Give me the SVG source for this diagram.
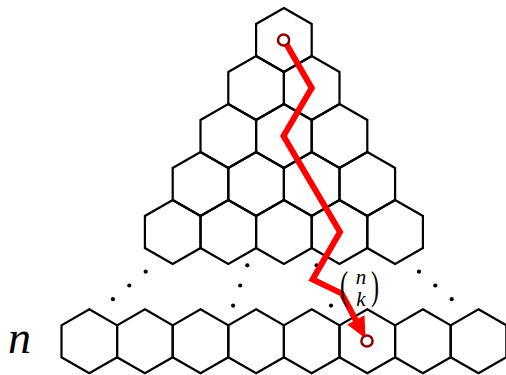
<svg xmlns="http://www.w3.org/2000/svg" width="506" height="375" viewBox="0 0 506 375">
<style>
.hex{fill:none;stroke:#000;stroke-width:2.2;stroke-linejoin:miter}
.dot{fill:#000}
.path{fill:none;stroke:#ff0000;stroke-width:6;stroke-linejoin:miter;stroke-miterlimit:6}
.end{fill:#fff;stroke:#8b0000;stroke-width:2.5}
.m{font-family:"Liberation Serif",serif;fill:#000}
</style>
<defs>
<path id="h" d="M0,-32 L27.8,-16 L27.8,16 L0,32 L-27.8,16 L-27.8,-16Z"/>
</defs>
<g id="triangle">
<use href="#h" class="hex" x="283.9" y="40"/>
<use href="#h" class="hex" x="256.1" y="88"/>
<use href="#h" class="hex" x="311.7" y="88"/>
<use href="#h" class="hex" x="228.3" y="136"/>
<use href="#h" class="hex" x="283.9" y="136"/>
<use href="#h" class="hex" x="339.5" y="136"/>
<use href="#h" class="hex" x="200.5" y="184"/>
<use href="#h" class="hex" x="256.1" y="184"/>
<use href="#h" class="hex" x="311.7" y="184"/>
<use href="#h" class="hex" x="367.3" y="184"/>
<use href="#h" class="hex" x="172.7" y="232"/>
<use href="#h" class="hex" x="228.3" y="232"/>
<use href="#h" class="hex" x="283.9" y="232"/>
<use href="#h" class="hex" x="339.5" y="232"/>
<use href="#h" class="hex" x="395.1" y="232"/>
</g>
<g id="bottom-row">
<use href="#h" class="hex" x="89.3" y="341.3"/>
<use href="#h" class="hex" x="144.9" y="341.3"/>
<use href="#h" class="hex" x="200.5" y="341.3"/>
<use href="#h" class="hex" x="256.1" y="341.3"/>
<use href="#h" class="hex" x="311.7" y="341.3"/>
<use href="#h" class="hex" x="367.3" y="341.3"/>
<use href="#h" class="hex" x="422.9" y="341.3"/>
<use href="#h" class="hex" x="478.5" y="341.3"/>
</g>
<g id="dots">
<circle class="dot" cx="145.7" cy="271.7" r="2.1"/>
<circle class="dot" cx="129.3" cy="285.5" r="2.1"/>
<circle class="dot" cx="112.9" cy="299.2" r="2.1"/>
<circle class="dot" cx="247.3" cy="265.3" r="2.1"/>
<circle class="dot" cx="240.2" cy="285.5" r="2.1"/>
<circle class="dot" cx="233.1" cy="305.6" r="2.1"/>
<circle class="dot" cx="316.6" cy="265.3" r="2.1"/>
<circle class="dot" cx="323.8" cy="285.5" r="2.1"/>
<circle class="dot" cx="331" cy="305.6" r="2.1"/>
<circle class="dot" cx="419" cy="271.7" r="2.1"/>
<circle class="dot" cx="435.3" cy="285.5" r="2.1"/>
<circle class="dot" cx="451.7" cy="299.2" r="2.1"/>
</g>
<g id="connectors">
<polyline class="path" points="284,40 311.7,88 283.5,136 340,232 312.6,279.4 341.6,293.4 356.5,321.5"/>
<polygon fill="#ff0000" points="365.5,338.5 347.2,324.4 364.5,315.3"/>
</g>
<g id="start">
<circle class="end" cx="283.6" cy="40" r="5.6"/>
</g>
<g id="end">
<circle class="end" cx="367" cy="341" r="5.6"/>
</g>
<g id="labels">
<text class="m" x="8" y="353" font-size="46" font-style="italic">n</text>
<text class="m" x="361" y="283.5" font-size="21" font-style="italic" text-anchor="middle">n</text>
<text class="m" x="361" y="306" font-size="21" font-style="italic" text-anchor="middle">k</text>
<text class="m" font-size="24" text-anchor="middle" transform="translate(344,289.2) scale(1,1.65)" x="0" y="6.2">(</text>
<text class="m" font-size="24" text-anchor="middle" transform="translate(375,289.2) scale(1,1.65)" x="0" y="6.2">)</text>
</g>
</svg>
